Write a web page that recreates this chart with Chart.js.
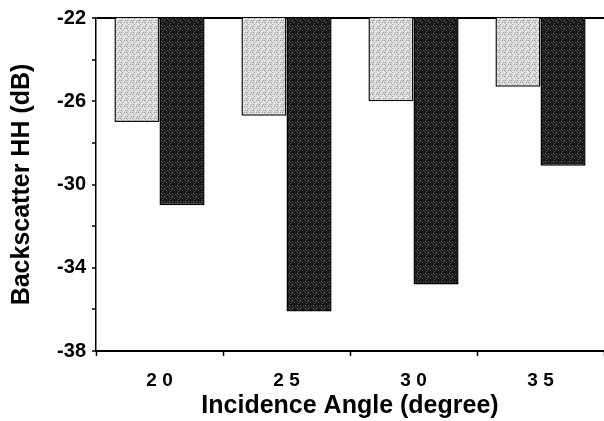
<!DOCTYPE html>
<html>
<head>
<meta charset="utf-8">
<script src="https://cdn.jsdelivr.net/npm/chart.js@4/dist/chart.umd.min.js"></script>
<style>
  html, body { margin: 0; padding: 0; background: #fff; }
  #wrap { width: 604px; height: 421px; }
</style>
</head>
<body>
<div id="wrap"><canvas id="myChart" width="604" height="421"></canvas></div>
<script>
const angles = ['20', '25', '30', '35'];
const lightValues = [-27.0, -26.7, -26.0, -25.3];
const darkValues = [-31.0, -36.1, -34.8, -29.1];
const yTicks = [-22, -26, -30, -34, -38];

// halftone-ish fills like the scanned figure
const makePattern = (base, dots, size) => {
  const c = document.createElement('canvas');
  c.width = size; c.height = size;
  const g = c.getContext('2d');
  g.fillStyle = base;
  g.fillRect(0, 0, size, size);
  for (const d of dots) {
    g.fillStyle = d[2];
    g.fillRect(d[0], d[1], 1, 1);
  }
  return g.createPattern(c, 'repeat');
};

const lightFill = makePattern('#d4d4d4', [
  [0, 0, '#ffffff'], [2, 0, '#a8a8a8'], [4, 1, '#ffffff'], [1, 2, '#9c9c9c'],
  [3, 3, '#ffffff'], [5, 2, '#b0b0b0'], [0, 4, '#a0a0a0'], [2, 5, '#ffffff'],
  [4, 4, '#9c9c9c'], [5, 5, '#ffffff'], [1, 5, '#b8b8b8'], [3, 1, '#f0f0f0']
], 6);

const darkFill = makePattern('#1a1a1a', [
  [1, 1, '#707070'], [4, 1, '#555555'], [1, 4, '#5a5a5a'], [4, 4, '#7a7a7a'],
  [2, 2, '#444444'], [5, 3, '#3c3c3c'], [3, 5, '#4a4a4a'], [0, 3, '#333333'],
  [6, 6, '#666666'], [7, 2, '#505050'], [2, 7, '#4e4e4e']
], 8);

const fontBold = (size) => ({ family: '"Liberation Sans", Arial, sans-serif', size: size, weight: 'bold' });

const ctx = document.getElementById('myChart');

new Chart(ctx, {
  type: 'bar',
  data: {
    labels: angles,
    datasets: [{
      label: 'light',
      data: lightValues,
      backgroundColor: lightFill,
      borderColor: '#111',
      borderWidth: 1.5,
      categoryPercentage: 0.71,
      barPercentage: 1.0
    }, {
      label: 'dark',
      data: darkValues,
      backgroundColor: darkFill,
      borderColor: '#000',
      borderWidth: 1.5,
      categoryPercentage: 0.71,
      barPercentage: 1.0
    }]
  },
  options: {
    responsive: false,
    animation: false,
    layout: { padding: { top: 13, right: 0, left: 0, bottom: 0 } },
    plugins: {
      legend: { display: false },
      tooltip: { enabled: false }
    },
    scales: {
      x: {
        grid: {
          offset: true,
          drawOnChartArea: false,
          tickLength: 5,
          tickColor: '#000',
          tickWidth: 1.5
        },
        border: { display: true, color: '#000', width: 2 },
        ticks: {
          color: '#000',
          font: fontBold(19),
          padding: 13,
          callback: function (v) { return this.getLabelForValue(v).split('').join(' '); }
        },
        title: {
          display: true,
          text: 'Incidence Angle (degree)',
          color: '#000',
          font: fontBold(25),
          padding: { top: 0, bottom: 0 }
        },
        afterFit: (s) => { s.height = 70; }
      },
      y: {
        min: -38,
        max: -22,
        ticks: {
          stepSize: 2,
          color: '#000',
          font: fontBold(20),
          padding: 6,
          callback: (v) => (yTicks.includes(v) ? String(v) : '')
        },
        grid: {
          drawOnChartArea: true,
          color: (c) => (c.tick && c.tick.value === -22 ? '#000' : 'rgba(0,0,0,0)'),
          lineWidth: 2,
          tickLength: 4,
          tickColor: '#000',
          tickWidth: 1.5
        },
        border: { display: true, color: '#000', width: 1.5 },
        title: {
          display: true,
          text: 'Backscatter HH (dB)',
          color: '#000',
          font: fontBold(25),
          padding: { top: 7, bottom: 0 }
        },
        afterFit: (s) => { s.width = 96; }
      }
    }
  }
});
</script>
</body>
</html>
